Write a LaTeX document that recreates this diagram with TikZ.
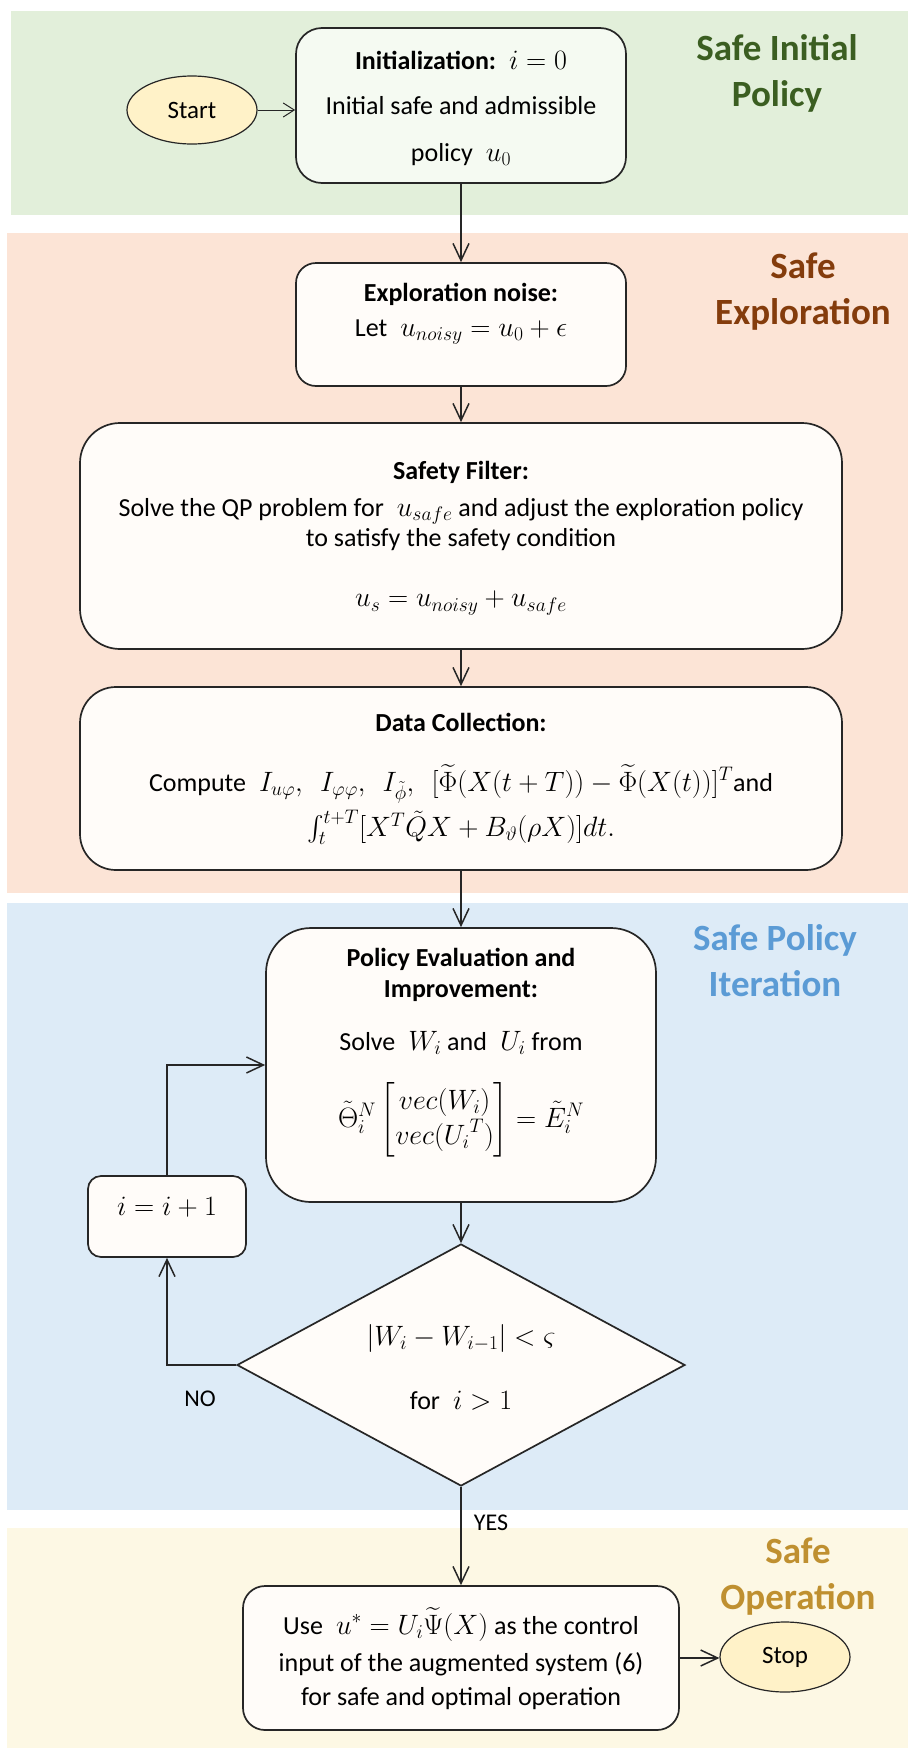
\RequirePackage{fix-cm}
\documentclass[tikz,border=0pt]{standalone}
\usepackage{amsmath}
\usepackage{fontspec}
\setmainfont{Carlito}
\usetikzlibrary{shapes.geometric,arrows.meta}
\definecolor{bandgreen}{HTML}{E2EFDA}
\definecolor{bandpink}{HTML}{FCE4D6}
\definecolor{bandblue}{HTML}{DDEBF7}
\definecolor{bandyellow}{HTML}{FDF8E4}
\definecolor{labgreen}{HTML}{3B5E21}
\definecolor{labbrown}{HTML}{843C0C}
\definecolor{labblue}{HTML}{5B9BD5}
\definecolor{labgold}{HTML}{BF9030}
\definecolor{linec}{HTML}{262626}
\definecolor{boxfill}{HTML}{FFFCF9}
\definecolor{initfill}{HTML}{F5FAF2}
\definecolor{ovalfill}{HTML}{FFF2C8}
\newcommand{\mymath}[1]{{\fontsize{28}{33}\selectfont$#1$}}
\begin{document}
\begin{tikzpicture}[x=1pt,y=-1pt,
  box/.style={draw=linec,line width=1.7pt,fill=boxfill,inner sep=0pt},
  oval/.style={ellipse,draw=linec,line width=1.2pt,fill=ovalfill,inner sep=0pt,font=\fontsize{25}{30}\selectfont},
  txt/.style={inner sep=0pt,font=\fontsize{26}{31}\selectfont,text height=18pt,text depth=6pt},
  mtxt/.style={inner sep=0pt,font=\fontsize{26}{31}\selectfont},
  sect/.style={inner sep=0pt,align=center,font=\fontsize{37}{46}\selectfont\bfseries},
  arr/.style={draw=linec,line width=1.5pt,-{Straight Barb[length=17pt,width=16pt]}},
  lab/.style={inner sep=0pt,font=\fontsize{24}{28}\selectfont}
]
\useasboundingbox (0,0) rectangle (908,1748);
\fill[white] (0,0) rectangle (908,1748);
\fill[bandgreen] (11,11) rectangle (908,215);
\fill[bandpink] (7,233) rectangle (908,893);
\fill[bandblue] (7,903) rectangle (908,1510);
\fill[bandyellow] (7,1528) rectangle (908,1748);

% section labels
\node[sect,text=labgreen] (sec1) at (777,73) {Safe Initial\\Policy};
\node[sect,text=labbrown] (sec2) at (803,292) {Safe\\Exploration};
\node[sect,text=labblue] (sec3) at (775,961) {Safe Policy\\Iteration};
\node[sect,text=labgold] (sec4) at (798,1577) {Safe\\Operation};

% start / init
\node[oval,minimum width=130pt,minimum height=68pt] (start) at (192,110) {Start};
\node[box,fill=initfill,rounded corners=26pt,minimum width=330pt,minimum height=155pt] (init) at (461,105.5) {};
\node[txt] (init1) at (461,63) {\textbf{Initialization:}\enspace\mymath{i=0}};
\node[txt] (init2) at (461,108) {Initial safe and admissible};
\node[txt] (init3) at (461,155) {policy\enspace\mymath{u_0}};

% exploration noise
\node[box,rounded corners=20pt,minimum width=330pt,minimum height=123pt] (noise) at (461,324.5) {};
\node[txt] (noise1) at (461,295) {\textbf{Exploration noise:}};
\node[txt] (noise2) at (461,330) {Let\enspace\mymath{u_{noisy}=u_0+\epsilon}};

% safety filter
\node[box,rounded corners=40pt,minimum width=762pt,minimum height=226pt] (filter) at (461,536) {};
\node[txt] (filter1) at (461,473) {\textbf{Safety Filter:}};
\node[txt] (filter2) at (461,510) {Solve the QP problem for\enspace\mymath{u_{safe}} and adjust the exploration policy};
\node[txt] (filter3) at (461,540) {to satisfy the safety condition};
\node[mtxt] (filter4) at (461,603) {\mymath{u_s=u_{noisy}+u_{safe}}};

% data collection
\node[box,rounded corners=36pt,minimum width=762pt,minimum height=183pt] (data) at (461,778.5) {};
\node[txt] (data1) at (461,725) {\textbf{Data Collection:}};
\node[mtxt] (data2) at (461,784) {Compute\enspace\mymath{I_{u\varphi},\ \ I_{\varphi\varphi},\ \ I_{\tilde{\phi}},\ \ [\widetilde{\Phi}(X(t+T))-\widetilde{\Phi}(X(t))]^T}and};
\node[mtxt] (data3) at (461,827) {\mymath{\int_t^{t+T}[X^T\tilde{Q}X+B_\vartheta(\rho X)]dt.}};

% policy evaluation
\node[box,rounded corners=45pt,minimum width=390pt,minimum height=274pt] (eval) at (461,1065) {};
\node[txt] (eval1) at (461,960) {\textbf{Policy Evaluation and}};
\node[txt] (eval2) at (461,991) {\textbf{Improvement:}};
\node[txt] (eval3) at (461,1044) {Solve\enspace\mymath{W_i} and\enspace\mymath{U_i} from};
\node[mtxt] (eval4) at (461,1120) {\mymath{\tilde{\Theta}_i^N\begin{bmatrix} vec(W_i)\\ vec({U_i}^T)\end{bmatrix}=\tilde{E}_i^N}};

% increment
\node[box,rounded corners=13pt,minimum width=158pt,minimum height=81pt] (inc) at (167,1216.5) {};
\node[mtxt] (inc1) at (167,1207) {\mymath{i=i+1}};

% decision
\node[diamond,draw=linec,line width=1.7pt,fill=boxfill,inner sep=0pt,minimum width=448pt,minimum height=242pt] (dia) at (461,1365) {};
\node[mtxt] (dia1) at (461,1338) {\mymath{\lvert W_i-W_{i-1}\rvert<\varsigma}};
\node[txt] (dia2) at (461,1403) {for\enspace\mymath{i>1}};

% final
\node[box,rounded corners=22pt,minimum width=436pt,minimum height=144pt] (final) at (461,1658) {};
\node[txt] (final1) at (461,1628) {Use\enspace\mymath{u^*=U_i\widetilde{\Psi}(X)} as the control};
\node[txt] (final2) at (461,1665) {input of the augmented system (6)};
\node[txt] (final3) at (461,1699) {for safe and optimal operation};
\node[oval,minimum width=130pt,minimum height=70pt] (stop) at (785,1657) {Stop};

% labels
\node[lab] (no) at (200,1399) {NO};
\node[lab] (yes) at (491,1523) {YES};

% connectors
\draw[draw=linec,line width=1pt,-{Straight Barb[length=11pt,width=14pt]}] (start.east) -- (start.east -| init.west);
\draw[arr] (init.south) -- (noise.north);
\draw[arr] (noise.south) -- (filter.north);
\draw[arr] (filter.south) -- (data.north);
\draw[arr] (data.south) -- (eval.north);
\draw[arr] (eval.south) -- (dia.north);
\draw[arr] (dia.west) -| (inc.south);
\draw[arr] (inc.north) |- (eval.west);
\draw[arr] (dia.south) -- (final.north);
\draw[arr] (final.east) -- (final.east -| stop.west);
\end{tikzpicture}
\end{document}
